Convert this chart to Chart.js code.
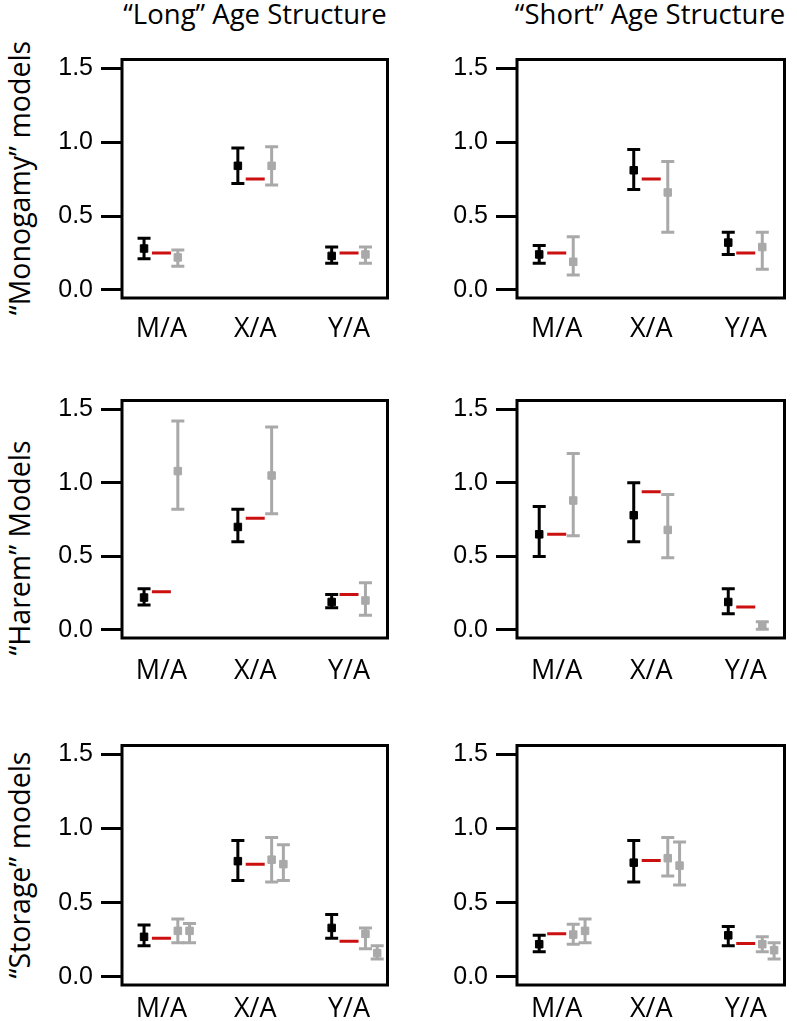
<!DOCTYPE html>
<html>
<head>
<meta charset="utf-8">
<script src="https://cdn.jsdelivr.net/npm/chart.js@4"></script>
<style>
  body { margin: 0; background: #fff; }
  #wrap { position: relative; width: 797px; height: 1021px; overflow: hidden; }
  canvas { position: absolute; }
  .title, .row { position: absolute; font-family: 'Open Sans'; color: #000; white-space: nowrap; line-height: 1; }
  .title { transform: translateX(-50%); font-size: 27.5px; }
  .row { transform: translate(-50%, -50%) rotate(-90deg); font-size: 28.5px; }
</style>
</head>
<body>
<div id="wrap">
  <div class="title" style="left:255px; top:0px">“Long” Age Structure</div>
  <div class="title" style="left:650px; top:0px">“Short” Age Structure</div>
  <div class="row" style="left:19px; top:178px">“Monogamy” models</div>
  <div class="row" style="left:19px; top:548px">“Harem” Models</div>
  <div class="row" style="left:19px; top:865px">“Storage” models</div>
  <canvas id="monoLong" width="400" height="300" style="left:0; top:47px"></canvas>
  <canvas id="monoShort" width="402" height="300" style="left:395px; top:47px"></canvas>
  <canvas id="haremLong" width="400" height="300" style="left:0; top:388px"></canvas>
  <canvas id="haremShort" width="402" height="300" style="left:395px; top:388px"></canvas>
  <canvas id="storageLong" width="400" height="288" style="left:0; top:733px"></canvas>
  <canvas id="storageShort" width="402" height="288" style="left:395px; top:733px"></canvas>
</div>
<script>
const categories = ['M/A', 'X/A', 'Y/A']
const yTickValues = [0, 0.5, 1.0, 1.5]

// each entry: [low, estimate, high]
const monoLongBlack = [[0.21, 0.28, 0.35], [0.72, 0.84, 0.96], [0.18, 0.23, 0.29]]
const monoLongRed = [0.25, 0.75, 0.25]
const monoLongGray = [[0.16, 0.22, 0.27], [0.71, 0.84, 0.97], [0.18, 0.24, 0.29]]

const monoShortBlack = [[0.18, 0.24, 0.30], [0.68, 0.81, 0.95], [0.24, 0.32, 0.39]]
const monoShortRed = [0.25, 0.75, 0.25]
const monoShortGray = [[0.10, 0.19, 0.36], [0.39, 0.66, 0.87], [0.14, 0.29, 0.39]]

const haremLongBlack = [[0.17, 0.22, 0.28], [0.60, 0.70, 0.82], [0.15, 0.19, 0.24]]
const haremLongRed = [0.26, 0.76, 0.24]
const haremLongGray = [[0.82, 1.08, 1.42], [0.79, 1.05, 1.38], [0.10, 0.20, 0.32]]

const haremShortBlack = [[0.50, 0.65, 0.84], [0.60, 0.78, 1.00], [0.11, 0.19, 0.28]]
const haremShortRed = [0.65, 0.94, 0.155]
const haremShortGray = [[0.64, 0.88, 1.20], [0.49, 0.68, 0.92], [0.005, 0.03, 0.055]]

const storageLongBlack = [[0.21, 0.27, 0.35], [0.65, 0.78, 0.92], [0.26, 0.33, 0.42]]
const storageLongRed = [0.26, 0.76, 0.24]
const storageLongGray = [[0.23, 0.31, 0.39], [0.64, 0.79, 0.94], [0.19, 0.29, 0.33]]
const storageLongGray2 = [[0.23, 0.31, 0.36], [0.65, 0.76, 0.89], [0.12, 0.16, 0.21]]

const storageShortBlack = [[0.17, 0.22, 0.28], [0.64, 0.77, 0.92], [0.21, 0.28, 0.34]]
const storageShortRed = [0.29, 0.785, 0.225]
const storageShortGray = [[0.22, 0.285, 0.355], [0.68, 0.80, 0.94], [0.17, 0.22, 0.27]]
const storageShortGray2 = [[0.23, 0.31, 0.39], [0.62, 0.75, 0.91], [0.12, 0.18, 0.23]]

const BLACK = '#000000'
const GRAY = '#a9a9a9'
const RED = '#cc1010'

// vertical error bars with caps, plus the box around the plot
const errorBars = {
  id: 'errorBars',
  beforeDatasetsDraw(chart) {
    const { ctx, scales: { x, y } } = chart
    chart.data.datasets.forEach((ds) => {
      if (!ds.errors) return
      ctx.save()
      ctx.strokeStyle = ds.borderColor
      ctx.lineWidth = 3
      ds.data.forEach((p, i) => {
        const px = x.getPixelForValue(p.x)
        const lo = y.getPixelForValue(ds.errors[i][0])
        const hi = y.getPixelForValue(ds.errors[i][1])
        ctx.beginPath()
        ctx.moveTo(px, lo)
        ctx.lineTo(px, hi)
        ctx.moveTo(px - 6.5, lo)
        ctx.lineTo(px + 6.5, lo)
        ctx.moveTo(px - 6.5, hi)
        ctx.lineTo(px + 6.5, hi)
        ctx.stroke()
      })
      ctx.restore()
    })
  },
  afterDraw(chart) {
    const { ctx, chartArea: a } = chart
    ctx.save()
    ctx.strokeStyle = '#000'
    ctx.lineWidth = 3
    ctx.strokeRect(a.left, a.top, a.right - a.left, a.bottom - a.top)
    ctx.restore()
  },
}

function estSet(rows, offset, color) {
  return {
    data: rows.map((r, i) => ({ x: i + offset, y: r[1] })),
    errors: rows.map((r) => [r[0], r[2]]),
    pointStyle: 'rect',
    pointRadius: 5.3,
    backgroundColor: color,
    borderColor: color,
    borderWidth: 1,
  }
}

function makePanel(id, xHeight, labelPad, black, red, gray, gray2) {
  const datasets = [
    estSet(black, -0.185, BLACK),
    {
      data: red.map((v, i) => ({ x: i, y: v })),
      pointStyle: 'line',
      pointRadius: 9.5,
      borderColor: RED,
      borderWidth: 3,
    },
    estSet(gray, 0.175, GRAY),
  ]
  if (gray2) datasets.push(estSet(gray2, 0.3, GRAY))

  new Chart(document.getElementById(id), {
    type: 'scatter',
    data: { datasets },
    options: {
      responsive: false,
      animation: false,
      events: [],
      layout: { padding: { top: 10, right: 3, bottom: 0, left: 0 } },
      plugins: { legend: { display: false }, tooltip: { enabled: false } },
      scales: {
        x: {
          type: 'linear',
          min: -0.42,
          max: 2.41,
          afterBuildTicks: (s) => { s.ticks = categories.map((c, i) => ({ value: i })) },
          afterFit: (s) => {
            s.height = xHeight
            s.paddingLeft = 0
            s.paddingRight = 0
          },
          ticks: {
            callback: (v) => categories[v],
            font: { family: "'Open Sans'", size: 27 },
            color: '#000',
            padding: labelPad,
            maxRotation: 0,
            autoSkip: false,
          },
          grid: { display: false },
          border: { display: false },
        },
        y: {
          min: -0.055,
          max: 1.56,
          afterBuildTicks: (s) => { s.ticks = yTickValues.map((v) => ({ value: v })) },
          afterFit: (s) => {
            s.width = 122
            s.paddingTop = 0
            s.paddingBottom = 0
          },
          ticks: {
            callback: (v) => v.toFixed(1),
            font: { family: "'Liberation Sans', Arial", size: 25 },
            color: '#000',
            padding: 8,
            autoSkip: false,
          },
          grid: {
            drawOnChartArea: false,
            drawTicks: true,
            tickLength: 21,
            tickWidth: 3,
            tickColor: '#000',
          },
          border: { display: false },
        },
      },
    },
    plugins: [errorBars],
  })
}

makePanel('monoLong', 49, 7, monoLongBlack, monoLongRed, monoLongGray)
makePanel('monoShort', 49, 7, monoShortBlack, monoShortRed, monoShortGray)
makePanel('haremLong', 50, 9, haremLongBlack, haremLongRed, haremLongGray)
makePanel('haremShort', 50, 9, haremShortBlack, haremShortRed, haremShortGray)
makePanel('storageLong', 36, 0, storageLongBlack, storageLongRed, storageLongGray, storageLongGray2)
makePanel('storageShort', 36, 0, storageShortBlack, storageShortRed, storageShortGray, storageShortGray2)
</script>
</body>
</html>
